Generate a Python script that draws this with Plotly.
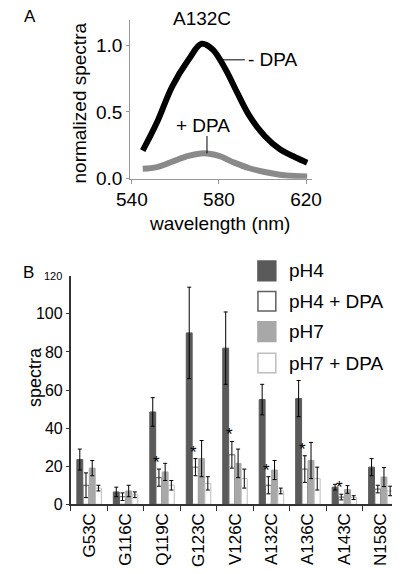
import plotly.graph_objects as go

# ---------------- Panel A data ----------------
wavelength = [545, 551.5, 558.5, 566, 572, 577, 583, 588.5, 594, 601, 608, 615, 620.5]
minus_dpa = [0.21, 0.42, 0.69, 0.89, 1.01, 0.97, 0.82, 0.64, 0.47, 0.32, 0.22, 0.16, 0.12]
wavelength_plus = [545, 551.5, 558.5, 566, 573, 580, 587, 594, 601, 608, 615, 620.5]
plus_dpa = [0.074, 0.086, 0.127, 0.17, 0.19, 0.17, 0.12, 0.078, 0.05, 0.03, 0.02, 0.017]

# ---------------- Panel B data ----------------
mutants = ["G53C", "G116C", "Q119C", "G123C", "V126C", "A132C", "A136C", "A143C", "N158C"]
ph4 = [23.5, 6.5, 48.5, 90, 82, 55, 55.5, 9, 19.5]
ph4_err = [5.5, 2.5, 7.5, 24, 19, 8, 9.5, 1.5, 4.5]
ph4_dpa = [10, 4, 14, 19.5, 26, 10, 18.5, 3.8, 8]
ph4_dpa_err = [6.5, 2, 4.5, 4.5, 7, 4.5, 7, 1.5, 2]
ph7 = [19, 7, 17, 24, 21.5, 18, 23, 7.8, 14.3]
ph7_err = [4, 3, 4.5, 9.5, 7.5, 5, 9.5, 2, 5]
ph7_dpa = [8.5, 5, 10, 11, 13.5, 7, 13.5, 3.5, 7]
ph7_dpa_err = [1.5, 1.5, 2.5, 3.5, 5, 1.5, 6, 1, 2.5]
significant = [False, False, True, True, True, True, True, True, False]

FONT = "Arial, Liberation Sans, sans-serif"
W, H = 400, 574

def px(x):
    return x / W

def py(y):
    return 1 - y / H

fig = go.Figure()

# Panel A curves
fig.add_trace(go.Scatter(x=wavelength, y=minus_dpa, mode="lines", line=dict(color="black", width=6, shape="spline"),
                         xaxis="x", yaxis="y", showlegend=False))
fig.add_trace(go.Scatter(x=wavelength_plus, y=plus_dpa, mode="lines", line=dict(color="#8a8a8a", width=6, shape="spline"),
                         xaxis="x", yaxis="y", showlegend=False))

# Panel B bars
series = [
    ("pH4", ph4, ph4_err, "#5a5a5a", "#5a5a5a"),
    ("pH4 + DPA", ph4_dpa, ph4_dpa_err, "white", "#606060"),
    ("pH7", ph7, ph7_err, "#a8a8a8", "#a8a8a8"),
    ("pH7 + DPA", ph7_dpa, ph7_dpa_err, "white", "#bdbdbd"),
]
for name, vals, errs, fill, edge in series:
    fig.add_trace(go.Bar(x=mutants, y=vals, name=name, xaxis="x2", yaxis="y2",
                         marker=dict(color=fill, line=dict(color=edge, width=1)),
                         error_y=dict(type="data", array=errs, color="black", thickness=1, width=2),
                         showlegend=False))

BARGAP = 0.32
cat_px = (W - 52) / 8.97

annotations = []
shapes = []

def label(x, y, text, size, xref="paper", yref="paper", angle=0, xanchor="center", yanchor="middle"):
    return dict(x=x, y=y, xref=xref, yref=yref, text=text, showarrow=False, textangle=angle,
                xanchor=xanchor, yanchor=yanchor, font=dict(family=FONT, size=size, color="black"))

# stars above pH4 + DPA
for m, v, e, s in zip(mutants, ph4_dpa, ph4_dpa_err, significant):
    if s:
        a = label(m, v + e, "*", 17, xref="x2", yref="y2", yanchor="bottom")
        a["xshift"] = -(1 - BARGAP) / 8 * cat_px - 2
        a["yshift"] = -5
        annotations.append(a)

annotations += [
    label(px(9), py(9), "A", 17),
    label(px(7), py(270), "B", 17),
    label(px(192), py(11), "A132C", 19),
    label(px(61), py(97), "normalized spectra", 19, angle=-90),
    label(px(210), py(220), "wavelength (nm)", 19),
    label(592.5, 0.89, "- DPA", 19, xref="x", yref="y", xanchor="left"),
    label(572.8, 0.40, "+ DPA", 19, xref="x", yref="y"),
    label(px(14), py(376), "spectra", 18, angle=-90),
    label(px(45), 120, "120", 11, yref="y2", xanchor="right"),
]
shapes += [
    dict(type="line", xref="x", yref="y", x0=581.3, x1=591.9, y0=0.89, y1=0.89, line=dict(color="black", width=1)),
    dict(type="line", xref="x", yref="y", x0=574.5, x1=574.5, y0=0.32, y1=0.19, line=dict(color="black", width=1)),
]

# manual legend
legend_rows = [268, 299, 330, 362]
for (name, _, _, fill, edge), yc in zip(series, legend_rows):
    shapes.append(dict(type="rect", xref="paper", yref="paper", x0=px(251), x1=px(270),
                       y0=py(yc + 10), y1=py(yc - 10), fillcolor=fill,
                       line=dict(color=edge, width=1.5)))
    annotations.append(label(px(282), py(yc), name, 19, xanchor="left"))

fig.update_layout(
    width=W, height=H,
    margin=dict(l=0, r=0, t=0, b=0),
    paper_bgcolor="white", plot_bgcolor="white",
    font=dict(family=FONT, color="black"),
    barmode="group", bargap=BARGAP, bargroupgap=0.05,
    showlegend=False,
    xaxis=dict(domain=[px(115), px(308)], anchor="y", range=[539.2, 622.5],
               tickvals=[540, 580, 620], ticks="outside", ticklen=4, tickcolor="#999",
               showline=True, linecolor="#999", linewidth=1, showgrid=False, zeroline=False,
               tickfont=dict(family=FONT, size=19)),
    yaxis=dict(domain=[py(174), py(12)], anchor="x", range=[0, 1.19],
               tickvals=[0, 0.5, 1.0], tickformat=".1f", ticks="outside", ticklen=3, tickcolor="#999",
               showline=True, linecolor="#999", linewidth=1, showgrid=False, zeroline=False,
               tickfont=dict(family=FONT, size=19)),
    xaxis2=dict(domain=[px(52), 1.0], anchor="y2", range=[-0.5, 8.47], tickangle=-90,
                ticks="outside", tickson="boundaries", ticklen=5, tickcolor="#333",
                showline=True, linecolor="#333", linewidth=2, showgrid=False,
                tickfont=dict(family=FONT, size=17)),
    yaxis2=dict(domain=[py(506), py(273)], anchor="x2", range=[0, 120],
                tickvals=[0, 20, 40, 60, 80, 100], ticks="outside", ticklen=3, tickcolor="#333",
                showline=True, linecolor="#333", linewidth=2, showgrid=False, zeroline=False,
                tickfont=dict(family=FONT, size=16)),
    annotations=annotations,
    shapes=shapes,
)

fig.write_html("out.html")
